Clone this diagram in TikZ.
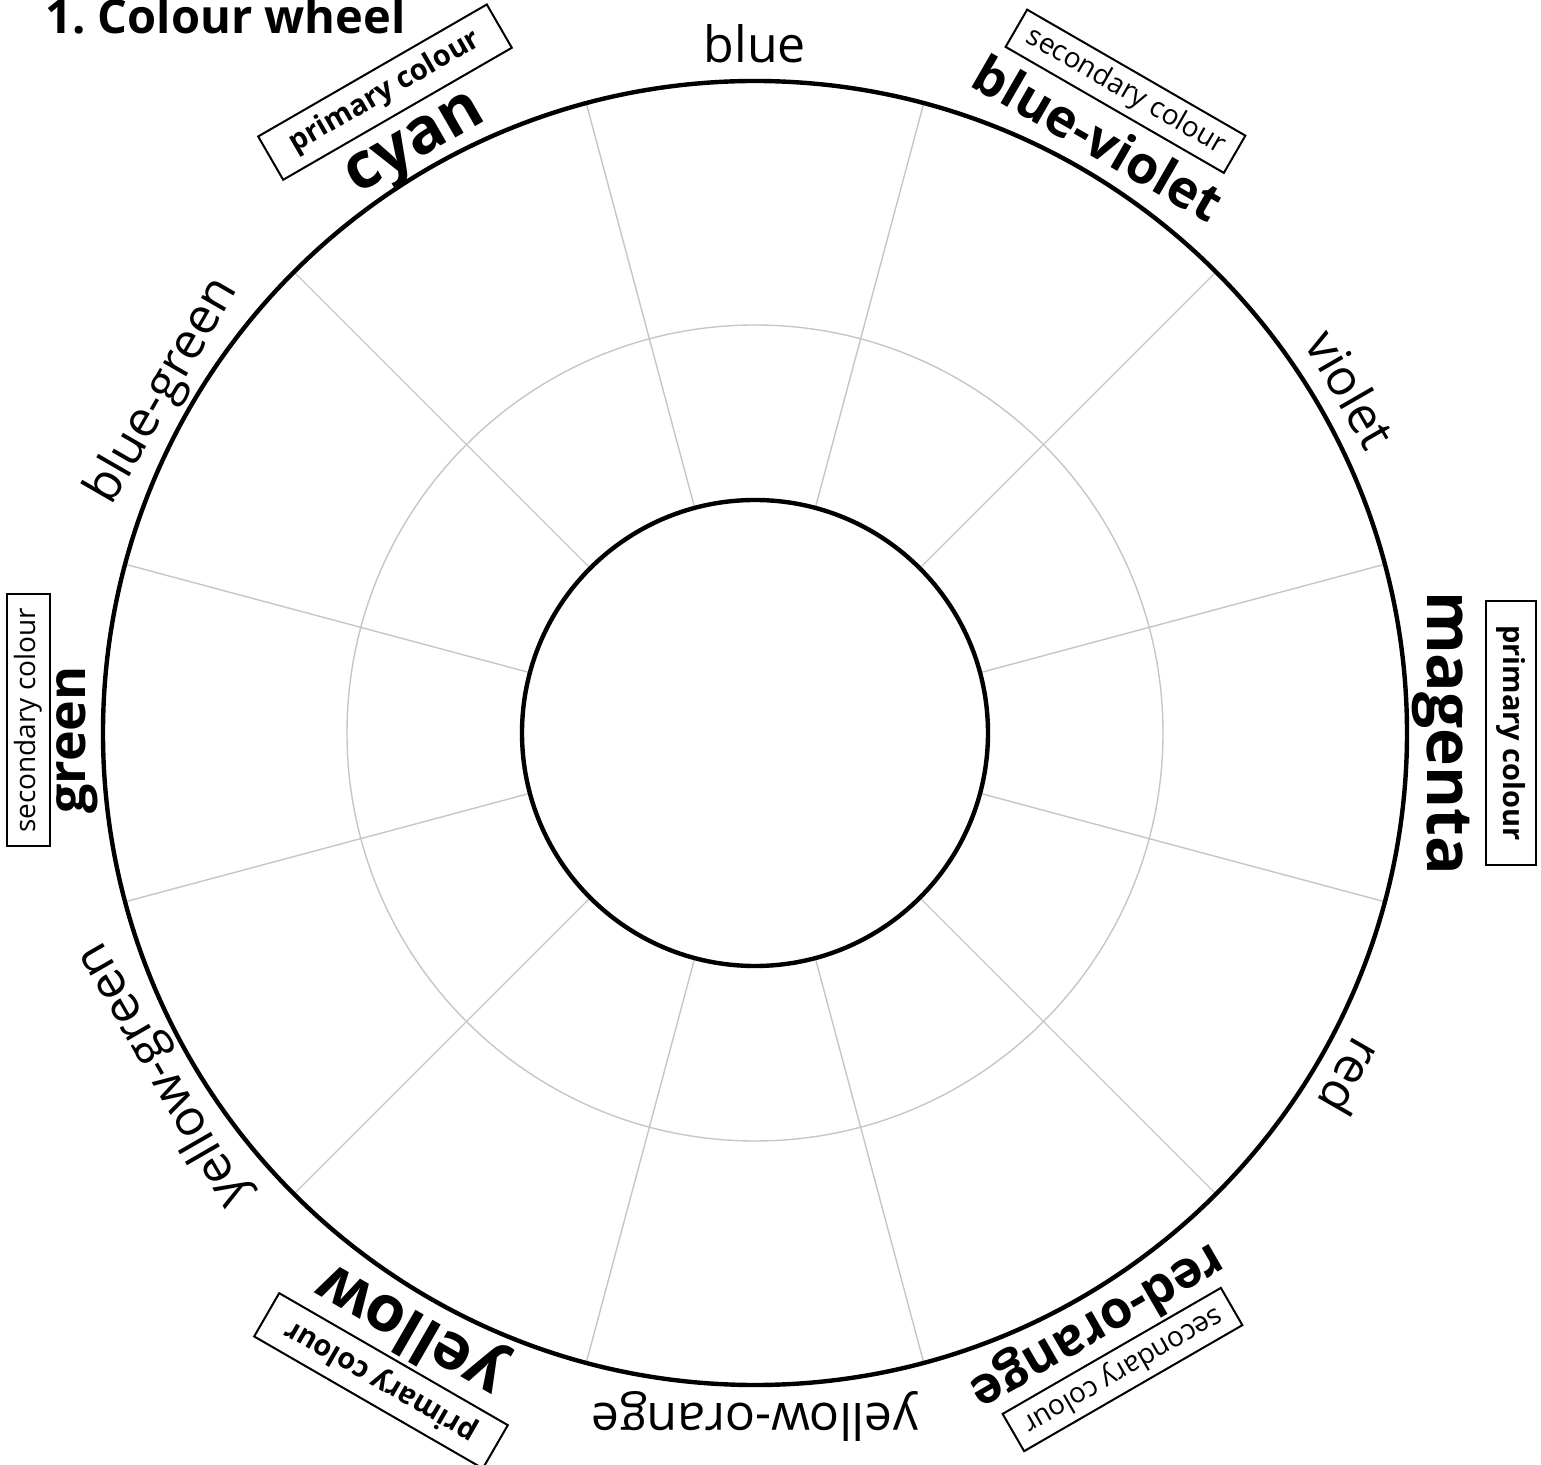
\documentclass[tikz,border=0pt]{standalone}
\usepackage{fontspec}
\setmainfont{Open Sans}
\usetikzlibrary{positioning}
\definecolor{ink}{HTML}{000000}
\definecolor{greyLine}{HTML}{C6C6C6}
\tikzset{
  ring/.style={draw=ink,line width=2.2pt},
  spoke/.style={draw=greyLine,line width=0.7pt},
  ttl/.style={font=\fontsize{23.5}{28}\selectfont\bfseries,text=ink,anchor=base west,inner sep=0pt},
  tert/.style={font=\fontsize{25}{30}\selectfont,text=ink,anchor=base,inner sep=0pt},
  sec/.style={font=\fontsize{26}{31}\selectfont\bfseries,text=ink,anchor=base,inner sep=0pt},
  prim/.style={font=\fontsize{32}{38}\selectfont\bfseries,text=ink,anchor=base,inner sep=0pt},
  primbox/.style={draw=ink,line width=1pt,font=\fontsize{14.5}{17}\selectfont\bfseries,
    minimum width=132pt,minimum height=25pt,inner sep=0pt},
  secbox/.style={draw=ink,line width=1pt,font=\fontsize{14}{17}\selectfont,
    minimum width=126pt,minimum height=21.5pt,inner sep=0pt}}
\begin{document}
\frenchspacing
\begin{tikzpicture}[x=0.5pt,y=0.5pt]
\useasboundingbox (-755,-732) rectangle (786,733);
\coordinate (c) at (0,0);
\draw[spoke] (c) circle (408);
\foreach \a in {15,45,...,345} \draw[spoke] (\a:233) -- (\a:652);
\draw[ring] (c) circle (652);
\draw[ring] (c) circle (233);
\node[ttl] (title) at (-710,699) {1. Colour wheel};
\node[tert,rotate=0] (blue) at (90:670) {blue};
\node[sec,rotate=-30] (bviolet) at (60:668) {blue-violet};
\node[tert,rotate=-60] (violet) at (30:670) {violet};
\node[prim,rotate=-90] (magenta) at (0:672) {magenta};
\node[tert,rotate=-120] (red) at (-30:670) {red};
\node[sec,rotate=-150] (rorange) at (-60:670) {red-orange};
\node[tert,rotate=180] (yorange) at (-90:670) {yellow-orange};
\node[prim,rotate=150] (yellow) at (-120:670) {yellow};
\node[tert,rotate=120] (ygreen) at (-150:670) {yellow-green};
\node[sec,rotate=90] (green) at (180.6:670) {green};
\node[tert,rotate=60] (bgreen) at (150:670) {blue-green};
\node[prim,rotate=30] (cyan) at (120:665) {cyan};
\node[primbox,rotate=30] (cyanbox) at (120:740) {primary colour};
\node[primbox,rotate=-90] (magentabox) at (0:756) {primary colour};
\node[primbox,rotate=150] (yellowbox) at (-120:748) {primary colour};
\node[secbox,rotate=-30] (bvioletbox) at (60:741) {secondary colour};
\node[secbox,rotate=-150] (rorangebox) at (-60:735) {secondary colour};
\node[secbox,rotate=90] (greenbox) at (179:727) {secondary colour};
\end{tikzpicture}
\end{document}
